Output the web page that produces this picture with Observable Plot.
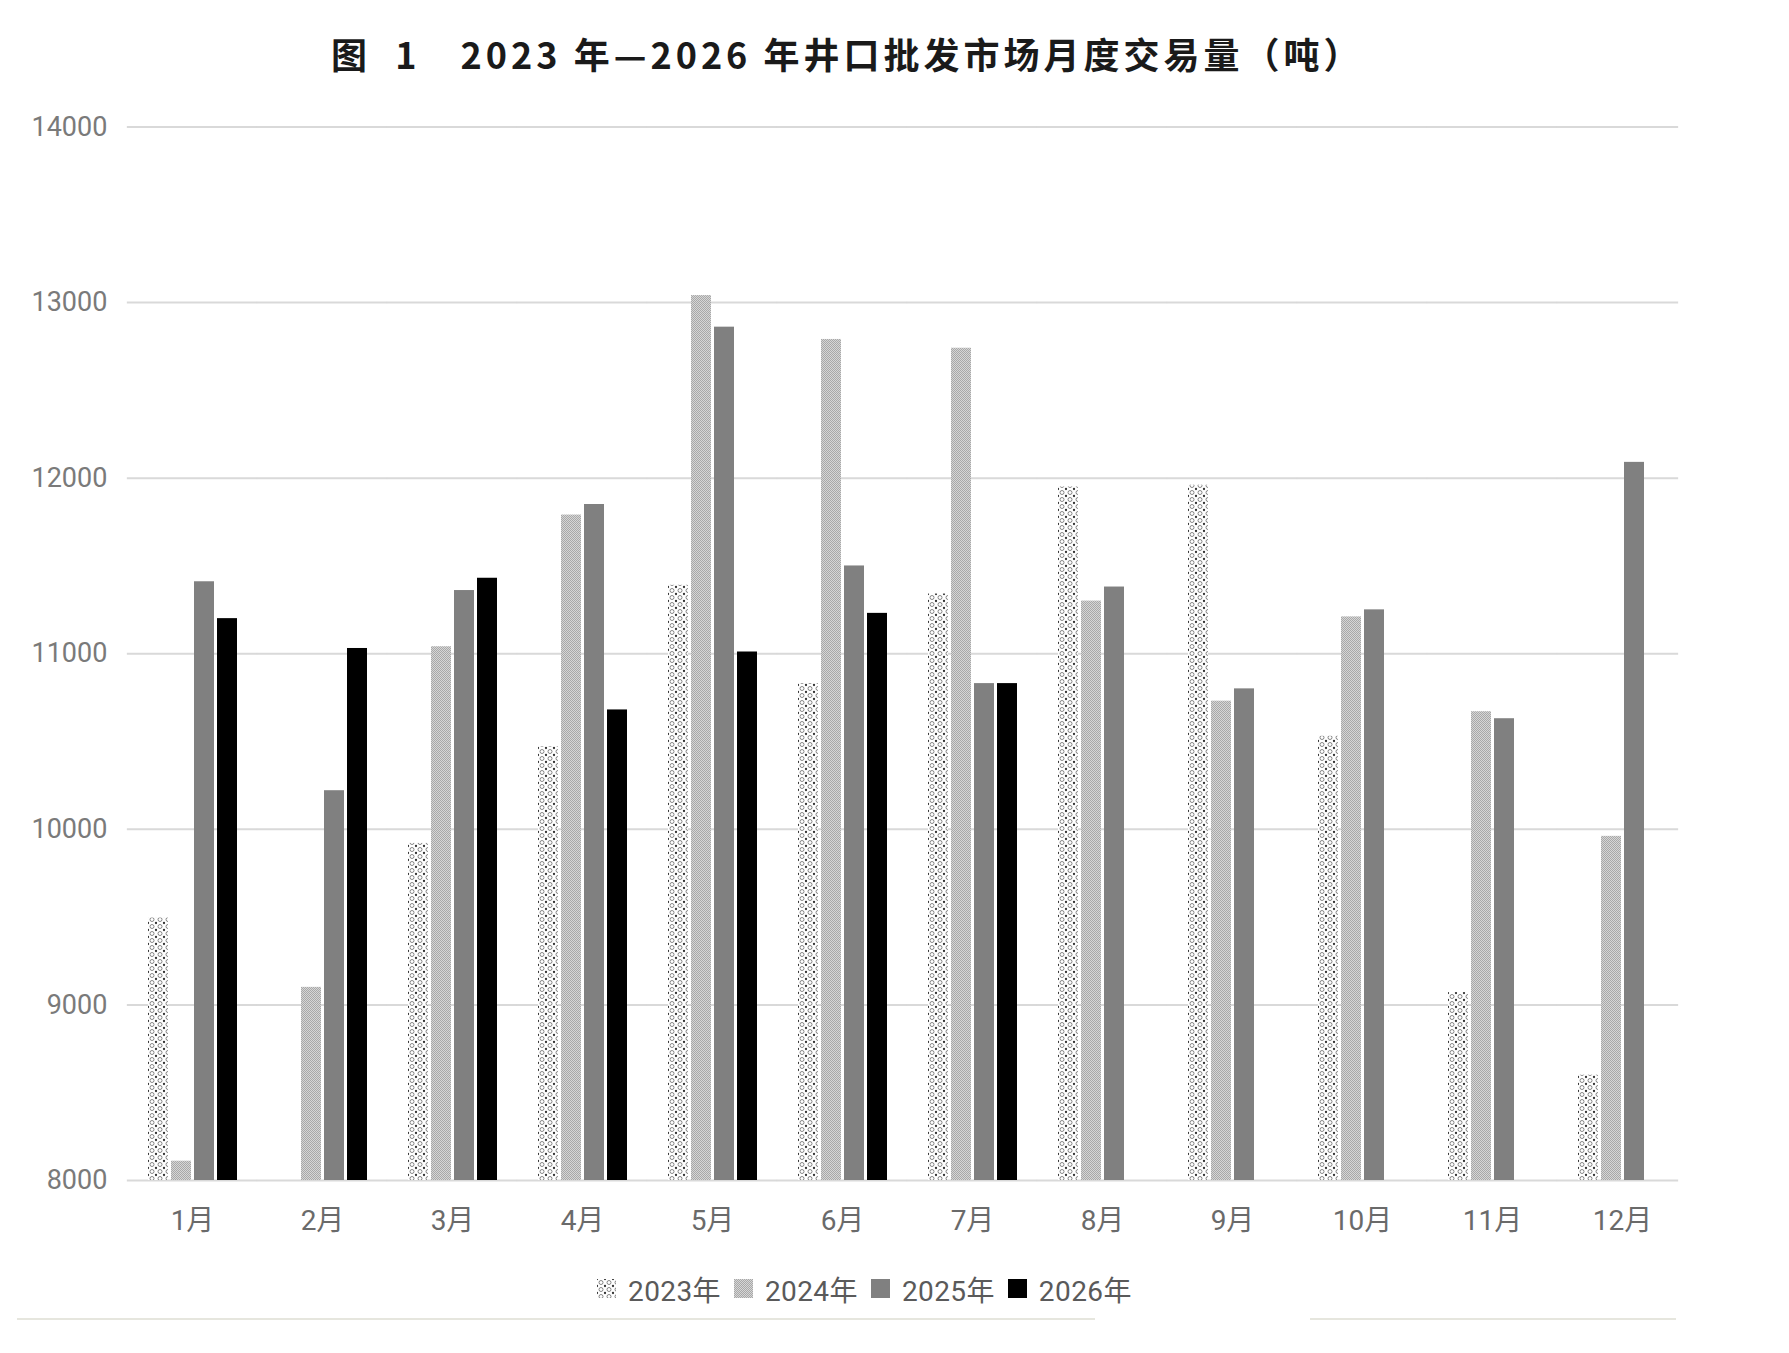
<!DOCTYPE html>
<html>
<head>
<meta charset="utf-8">
<script src="https://cdn.jsdelivr.net/npm/d3@7"></script>
<script src="https://cdn.jsdelivr.net/npm/@observablehq/plot@0.6"></script>
<style>
  html, body { margin: 0; padding: 0; background: #ffffff; }
  #wrap { position: relative; width: 1789px; height: 1353px; overflow: hidden; background: #fff; }
  #title { height: 90px; box-sizing: border-box; padding-top: 33px; padding-left: 331px; line-height: 40px;
    font-family: "Noto Sans CJK SC", sans-serif; font-weight: 700; font-size: 36px; letter-spacing: 4px; color: #1a1a1a; white-space: pre; }
  #legend { height: 62px; box-sizing: border-box; padding-top: 9px; padding-left: 597px; display: flex; align-items: center; }
  .lg-swatch { margin-right: 13px !important; letter-spacing: 0.4px; }
  .lg-swatch > svg { margin-right: 12px !important; }
  .hr { position: absolute; height: 2px; background: #e6e6de; top: 1318px; }
</style>
</head>
<body>
<svg width="0" height="0" style="position:absolute">
  <defs>
    <pattern id="p2023" patternUnits="userSpaceOnUse" width="8" height="7">
      <rect width="8" height="7" fill="#ffffff"></rect>
      <circle cx="4" cy="3.5" r="2" fill="none" stroke="#777" stroke-width="0.9"></circle>
      <circle cx="0" cy="0" r="1.15" fill="#333"></circle>
      <circle cx="8" cy="0" r="1.15" fill="#333"></circle>
      <circle cx="0" cy="7" r="1.15" fill="#333"></circle>
      <circle cx="8" cy="7" r="1.15" fill="#333"></circle>
    </pattern>
    <pattern id="p2024" patternUnits="userSpaceOnUse" width="2" height="2">
      <rect width="2" height="2" fill="#d6d6d6"></rect>
      <rect width="1" height="1" fill="#a8a8a8"></rect>
      <rect x="1" y="1" width="1" height="1" fill="#a8a8a8"></rect>
    </pattern>
  </defs>
</svg>
<div id="wrap">
  <div id="title"></div>
  <div id="chart"></div>
  <div id="legend"></div>
  <div class="hr" style="left:17px; width:1078px;"></div>
  <div class="hr" style="left:1310px; width:366px;"></div>
</div>
<script>
const titleText = "图\u00a0\u00a01\u30002023 年—2026 年井口批发市场月度交易量（吨）";
const months = ["1月","2月","3月","4月","5月","6月","7月","8月","9月","10月","11月","12月"];
const years = ["2023年","2024年","2025年","2026年"];
const v2023 = [9495, null, 9920, 10470, 11390, 10830, 11340, 11950, 11960, 10530, 9070, 8600];
const v2024 = [8110, 9100, 11040, 11790, 13040, 12790, 12740, 11300, 10730, 11210, 10670, 9960];
const v2025 = [11410, 10220, 11360, 11850, 12860, 11500, 10830, 11380, 10800, 11250, 10630, 12090];
const v2026 = [11200, 11030, 11430, 10680, 11010, 11230, 10830, null, null, null, null, null];
const yTicks = [8000, 9000, 10000, 11000, 12000, 13000, 14000];
const fills = ["url(#p2023)", "url(#p2024)", "#808080", "#000000"];

document.getElementById("title").textContent = titleText;

const series = [v2023, v2024, v2025, v2026];
const data = [];
months.forEach((m, i) => {
  series.forEach((arr, j) => {
    if (arr[i] != null) data.push({month: m, year: years[j], value: arr[i]});
  });
});
const yMin = yTicks[0];
const yMax = yTicks[yTicks.length - 1];

const W = 1789, ML = 127, MR = 102;
const fxPadIn = 0.31, fxPadOut = 0.155;
// half the gap between month groups, so each group's gridlines join up
const fxStep = (W - ML - MR) / (months.length - fxPadIn + 2 * fxPadOut);
const halfGap = fxStep * fxPadIn / 2;
const lastMonth = months[months.length - 1];
const gridData = months.flatMap(m => yTicks.map(t => ({month: m, tick: t})));
const gridStyle = {stroke: "#d9d9d9", strokeOpacity: 1, strokeWidth: 2};

const chart = Plot.plot({
  width: W,
  height: 1170,
  marginTop: 36.5,
  marginBottom: 80,
  marginLeft: ML,
  marginRight: MR,
  style: {fontFamily: "Roboto, 'Noto Sans CJK SC', sans-serif", fontSize: "28px", background: "#ffffff", overflow: "visible"},
  fx: {domain: months, paddingInner: fxPadIn, paddingOuter: fxPadOut, axis: null, label: null},
  x: {domain: years, paddingInner: 0.14, paddingOuter: 0, axis: null},
  y: {domain: [yMin, yMax], axis: null},
  color: {domain: years, range: fills},
  marks: [
    Plot.ruleY(gridData.filter(d => d.month !== lastMonth), {fx: "month", y: "tick", ...gridStyle, insetLeft: -halfGap, insetRight: -halfGap}),
    Plot.ruleY(gridData.filter(d => d.month === lastMonth), {fx: "month", y: "tick", ...gridStyle, insetLeft: -halfGap, insetRight: -halfGap + 9}),
    Plot.barY(data, {fx: "month", x: "year", y1: yMin, y2: "value", fill: "year"}),
    Plot.axisFx({anchor: "bottom", tickSize: 0, tickPadding: 30, label: null, fill: "#6a6a6a", fontSize: 28}),
    Plot.axisY(yTicks, {anchor: "left", tickSize: 0, tickPadding: 20 + halfGap, label: null, tickFormat: d => String(d), fill: "#7a7a7a", fontSize: 27})
  ]
});
document.getElementById("chart").appendChild(chart);

const lg = chart.legend("color", {
  className: "lg",
  swatchSize: 19,
  style: {fontSize: "28px", color: "#5a5a5a", fontFamily: "Roboto, 'Noto Sans CJK SC', sans-serif"}
});
document.getElementById("legend").appendChild(lg);
</script>
</body>
</html>
